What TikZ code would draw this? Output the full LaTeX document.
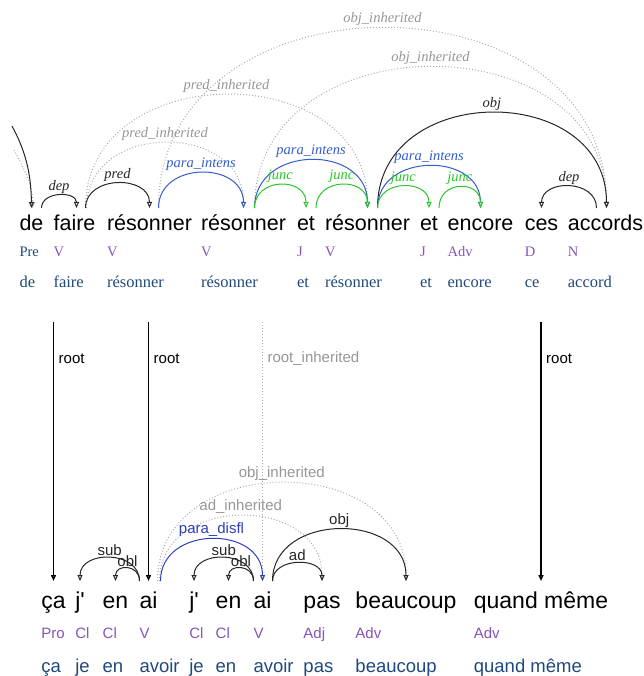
\documentclass[tikz,border=0pt]{standalone}
\usepackage{fontspec}
\setmainfont{Liberation Serif}
\setsansfont[Ligatures=TeXOff]{Liberation Sans}
\usetikzlibrary{arrows.meta}
\definecolor{arcblue}{RGB}{52,92,204}
\definecolor{arcgreen}{RGB}{40,200,40}
\definecolor{inhgrey}{RGB}{172,172,172}
\definecolor{inhtext}{RGB}{150,150,150}
\definecolor{posviolet}{RGB}{132,84,186}
\definecolor{lemmablue}{RGB}{32,72,124}
\definecolor{disflblue}{RGB}{44,64,184}
\tikzset{
  tword/.style={font=\sffamily\fontsize{21.5}{21.5}\selectfont, anchor=base, inner sep=0pt},
  tpos/.style={font=\fontsize{14.5}{14.5}\selectfont, text=posviolet, anchor=base west, inner sep=0pt},
  tlemma/.style={font=\fontsize{16.5}{16.5}\selectfont, text=lemmablue, anchor=base west, inner sep=0pt},
  tlbl/.style={font=\itshape\fontsize{14.5}{14.5}\selectfont, inner sep=1.5pt, above},
  bword/.style={font=\sffamily\fontsize{23}{23}\selectfont, anchor=base, inner sep=0pt},
  bpos/.style={font=\sffamily\fontsize{15}{15}\selectfont, text=posviolet, anchor=base west, inner sep=0pt},
  blemma/.style={font=\sffamily\fontsize{18.5}{18.5}\selectfont, text=lemmablue, anchor=base west, inner sep=0pt},
  bfont/.style={font=\sffamily\fontsize{15}{15}\selectfont, inner sep=1.5pt},
  blbl/.style={bfont, above},
  deparc/.style={line width=1pt, -{Triangle[open,length=6pt,width=5pt]}},
  blackarc/.style={deparc, black!85},
  bluearc/.style={deparc, arcblue},
  greenarc/.style={deparc, arcgreen},
  inharc/.style={deparc, inhgrey, dash pattern=on 1pt off 2pt},
  rootarc/.style={deparc, black, line width=1.4pt},
}
\begin{document}
\begin{tikzpicture}[x=1pt,y=-1pt]
  \useasboundingbox (0,0) rectangle (643,676);
  % upper sentence
  \foreach \x/\w/\p/\c/\l [count=\i] in {31.5/de/Pre/lemmablue/de,
      74.5/faire/V/posviolet/faire, 149.5/résonner/V/posviolet/résonner,
      243.5/résonner/V/posviolet/résonner, 306/et/J/posviolet/et,
      367.5/résonner/V/posviolet/résonner, 429/et/J/posviolet/et,
      480.5/encore/Adv/posviolet/encore, 541.5/ces/D/posviolet/ce,
      605.5/accords/N/posviolet/accord}
  {
    \node[tword] (t\i) at (\x,230) {\w};
    \node[tpos, text=\c] (tp\i) at (t\i.west |- 0,256) {\p};
    \node[tlemma] (tl\i) at (t\i.west |- 0,287) {\l};
  }
  % lower sentence
  \foreach \x/\w/\p/\l [count=\i] in {53.5/ça/Pro/ça, 80/j'/Cl/je,
      115.5/en/Cl/en, 148.5/ai/V/avoir, 194/j'/Cl/je, 228.5/en/Cl/en,
      262.5/ai/V/avoir, 322/pas/Adj/pas, 406/beaucoup/Adv/beaucoup,
      541/quand même/Adv/quand même}
  {
    \node[bword] (b\i) at (\x,608) {\w};
    \node[bpos] (bp\i) at (b\i.west |- 0,638) {\p};
    \node[blemma] (bl\i) at (b\i.west |- 0,672) {\l};
  }
  % incoming root of the upper sentence
  \coordinate (topin) at (12,126);
  \coordinate (topinh) at (14,150);
  \draw[inharc] (topinh) .. controls (26,172) and (33,188) .. ([xshift=1pt,yshift=22pt]t1.base);
  \draw[blackarc] (topin) .. controls (25,150) and (31,172) .. ([yshift=22pt]t1.base);
  % upper arcs, inherited first
  \draw[inharc] ([xshift=9pt,yshift=22pt]t3.base) .. controls +(0,-240) and +(0,-240) .. ([xshift=1pt,yshift=22pt]t10.base)
    node[midway, tlbl, text=inhtext] {obj\_inherited};
  \draw[inharc] ([xshift=11pt,yshift=22pt]t4.base) .. controls +(0,-188) and +(0,-188) .. ([xshift=1pt,yshift=22pt]t10.base)
    node[midway, tlbl, text=inhtext] {obj\_inherited};
  \draw[inharc] ([xshift=11pt,yshift=22pt]t2.base) .. controls +(0,-151) and +(0,-151) .. ([yshift=22pt]t6.base)
    node[midway, tlbl, text=inhtext] {pred\_inherited};
  \draw[inharc] ([xshift=12pt,yshift=22pt]t2.base) .. controls +(0,-87) and +(0,-87) .. ([yshift=22pt]t4.base)
    node[midway, tlbl, text=inhtext] {pred\_inherited};
  \draw[blackarc] ([xshift=10pt,yshift=22pt]t1.base) .. controls +(0,-17) and +(0,-17) .. ([xshift=2pt,yshift=22pt]t2.base)
    node[midway, tlbl] {dep};
  \draw[blackarc] ([xshift=11pt,yshift=22pt]t2.base) .. controls +(0,-33) and +(0,-33) .. ([yshift=22pt]t3.base)
    node[midway, tlbl] {pred};
  \draw[bluearc] ([xshift=9pt,yshift=22pt]t3.base) .. controls +(0,-47) and +(0,-47) .. ([yshift=22pt]t4.base)
    node[midway, tlbl, text=arcblue] {para\_intens};
  \draw[bluearc] ([xshift=11pt,yshift=22pt]t4.base) .. controls +(0,-64) and +(0,-64) .. ([yshift=22pt]t6.base)
    node[midway, tlbl, text=arcblue] {para\_intens};
  \draw[greenarc] ([xshift=11pt,yshift=22pt]t4.base) .. controls +(0,-31) and +(0,-31) .. ([yshift=22pt]t5.base)
    node[midway, tlbl, text=arcgreen] {junc};
  \draw[greenarc] ([xshift=10pt,yshift=22pt]t5.base) .. controls +(0,-31) and +(0,-31) .. ([yshift=22pt]t6.base)
    node[midway, tlbl, text=arcgreen] {junc};
  \draw[blackarc] ([xshift=10pt,yshift=22pt]t6.base) .. controls +(0,-127) and +(0,-127) .. ([xshift=1pt,yshift=22pt]t10.base)
    node[midway, tlbl] {obj};
  \draw[bluearc] ([xshift=10pt,yshift=22pt]t6.base) .. controls +(0,-56) and +(0,-56) .. ([yshift=22pt]t8.base)
    node[midway, tlbl, text=arcblue] {para\_intens};
  \draw[greenarc] ([xshift=10pt,yshift=22pt]t6.base) .. controls +(0,-29) and +(0,-29) .. ([yshift=22pt]t7.base)
    node[midway, tlbl, text=arcgreen] {junc};
  \draw[greenarc] ([xshift=10pt,yshift=22pt]t7.base) .. controls +(0,-28) and +(0,-28) .. ([yshift=22pt]t8.base)
    node[midway, tlbl, text=arcgreen] {junc};
  \draw[blackarc] ([xshift=-9pt,yshift=22pt]t10.base) .. controls +(0,-29) and +(0,-29) .. ([yshift=22pt]t9.base)
    node[midway, tlbl] {dep};
  % roots of the lower sentence
  \coordinate (rt1) at (b1.base |- 0,322);
  \coordinate (rt4) at (b4.base |- 0,322);
  \coordinate (rt7) at (b7.base |- 0,322);
  \coordinate (rt10) at (b10.base |- 0,322);
  \draw[rootarc] (rt1) -- ([yshift=27pt]b1.base) node[pos=0.14, bfont, right=3pt] {root};
  \draw[rootarc] (rt4) -- ([yshift=27pt]b4.base) node[pos=0.14, bfont, right=3pt] {root};
  \draw[inharc] (rt7) -- ([yshift=27pt]b7.base) node[pos=0.14, bfont, right=3pt, text=inhtext] {root\_inherited};
  \draw[rootarc] (rt10) -- ([yshift=27pt]b10.base) node[pos=0.14, bfont, right=3pt] {root};
  % lower arcs
  \draw[inharc] ([xshift=9pt,yshift=27pt]b4.base) .. controls +(0,-131) and +(0,-131) .. ([yshift=27pt]b9.base)
    node[midway, blbl, text=inhtext] {obj\_inherited};
  \draw[inharc] ([xshift=11pt,yshift=27pt]b4.base) .. controls +(0,-87) and +(0,-87) .. ([yshift=27pt]b8.base)
    node[midway, blbl, text=inhtext] {ad\_inherited};
  \draw[blackarc] ([xshift=-9pt,yshift=27pt]b4.base) .. controls +(0,-31) and +(0,-31) .. ([yshift=27pt]b2.base)
    node[midway, blbl] {sub};
  \draw[blackarc] ([xshift=-9pt,yshift=27pt]b4.base) .. controls +(0,-17) and +(0,-17) .. ([yshift=27pt]b3.base)
    node[midway, blbl] {obl};
  \draw[deparc, disflblue] ([xshift=12pt,yshift=27pt]b4.base) .. controls +(0,-56) and +(0,-56) .. ([yshift=27pt]b7.base)
    node[midway, blbl, text=disflblue] {para\_disfl};
  \draw[blackarc] ([xshift=-9pt,yshift=27pt]b7.base) .. controls +(0,-31) and +(0,-31) .. ([yshift=27pt]b5.base)
    node[midway, blbl] {sub};
  \draw[blackarc] ([xshift=-9pt,yshift=27pt]b7.base) .. controls +(0,-17) and +(0,-17) .. ([yshift=27pt]b6.base)
    node[midway, blbl] {obl};
  \draw[blackarc] ([xshift=10pt,yshift=27pt]b7.base) .. controls +(0,-24) and +(0,-24) .. ([yshift=27pt]b8.base)
    node[midway, blbl] {ad};
  \draw[blackarc] ([xshift=10pt,yshift=27pt]b7.base) .. controls +(0,-69) and +(0,-69) .. ([yshift=27pt]b9.base)
    node[midway, blbl] {obj};
\end{tikzpicture}
\end{document}
